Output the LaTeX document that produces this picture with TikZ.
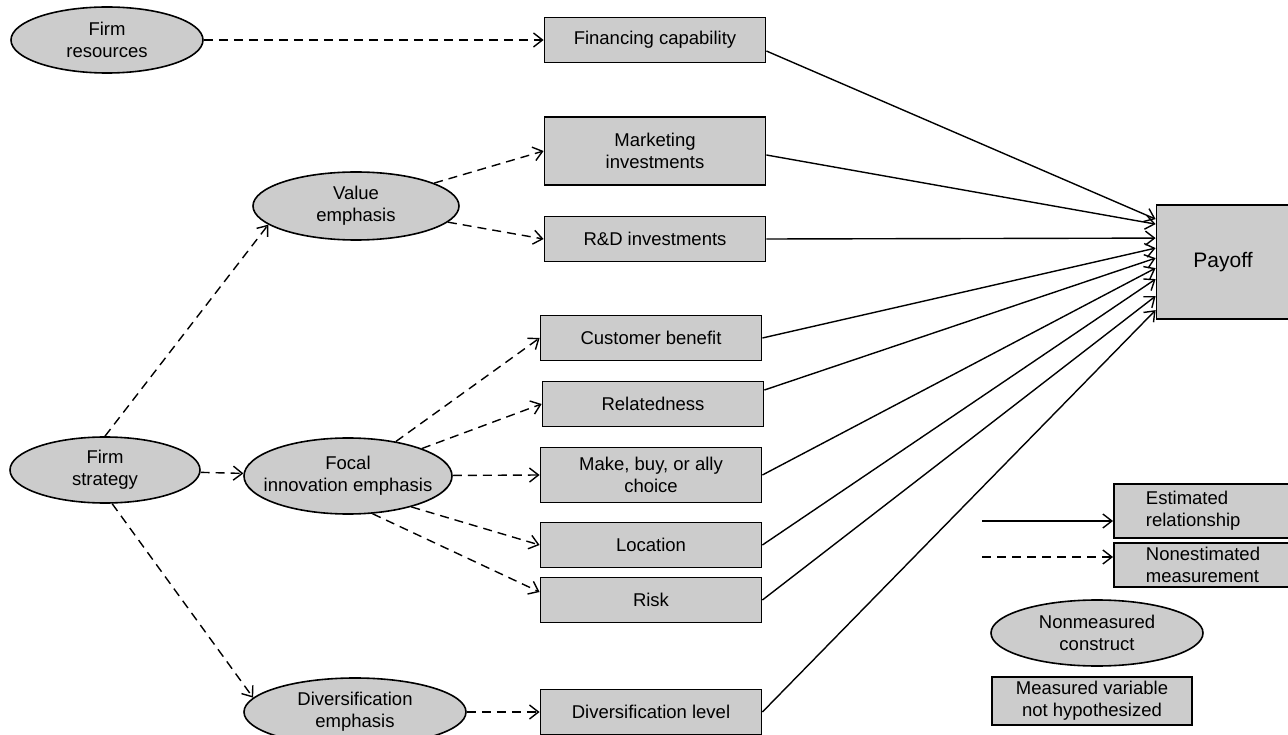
\documentclass[tikz,border=0pt]{standalone}
\usepackage{fontspec}
\setmainfont{Liberation Sans}
\usepackage{tikz}
\usetikzlibrary{shapes.geometric,arrows.meta,calc}
\definecolor{boxgray}{RGB}{204,204,204}
\def\ovalnode{\node[ellipse,draw,line width=1.6pt,fill=boxgray,inner sep=0pt,inner xsep=-60pt,inner ysep=-30pt,align=center,font=\fontsize{18.5}{21.7}\selectfont]}
\def\varnode{\node[rectangle,draw,line width=1.8pt,fill=boxgray,inner sep=0pt,minimum width=221pt,minimum height=45pt,align=center,font=\fontsize{18.5}{21.7}\selectfont]}
\def\drawest{\draw[line width=1.4pt,-{Straight Barb[length=9pt,width=14pt]}]}
\def\drawnonest{\draw[line width=1.4pt,dash pattern=on 9pt off 6pt,-{Straight Barb[length=9pt,width=14pt]}]}

\begin{document}
\begin{tikzpicture}[x=1pt,y=-1pt]
\useasboundingbox (0,0) rectangle (1288,735);
% constructs
\ovalnode[minimum width=192pt,minimum height=66pt] (fres) at (107,40) {Firm\\resources};
\ovalnode[minimum width=190pt,minimum height=66pt] (fstrat) at (105,470) {Firm\\strategy};
\ovalnode[minimum width=206pt,minimum height=68pt] (value) at (356,206) {Value\\emphasis};
\ovalnode[minimum width=208pt,minimum height=76pt] (focal) at (348,476) {Focal\\innovation emphasis};
\ovalnode[minimum width=222pt,minimum height=68pt] (divemph) at (355,712) {Diversification\\emphasis};
% measured variables
\varnode (fin) at (655,40) {Financing capability};
\varnode[minimum height=68pt] (mkt) at (655,151) {Marketing\\investments};
\varnode (rd) at (655,239) {R\&D investments};
\varnode (cust) at (651,338) {Customer benefit};
\varnode (rel) at (653,404) {Relatedness};
\varnode[minimum height=55pt] (make) at (651,475) {Make, buy, or ally\\choice};
\varnode (loc) at (651,545) {Location};
\varnode (risk) at (651,600) {Risk};
\varnode (divl) at (651,712) {Diversification level};
\varnode[minimum width=133pt,minimum height=114pt,font=\fontsize{21}{25}\selectfont] (payoff) at (1223,262) {Payoff};
% legend
\varnode[anchor=north west,minimum width=180pt,minimum height=54pt,text width=116pt,inner xsep=32pt,align=left] (lest) at (1113,483) {Estimated\\relationship};
\varnode[anchor=north west,minimum width=180pt,minimum height=44pt,text width=116pt,inner xsep=32pt,align=left] (lnon) at (1113,542) {Nonestimated\\measurement};
\ovalnode[minimum width=212pt,minimum height=66pt] (lcon) at (1097,633) {Nonmeasured\\construct};
\varnode[minimum width=200pt,minimum height=48pt] (lmeas) at (1092,701) {Measured variable\\not hypothesized};
\coordinate (le) at (982,521);
\coordinate (ln) at (982,557);
\drawest (le) -- (lest.west |- le);
\drawnonest (ln) -- (lnon.west |- ln);
% nonestimated measurement
\drawnonest (fres) -- (fin);
\drawnonest (value) -- (mkt.west);
\drawnonest (value) -- (rd.west);
\drawnonest (fstrat.north) -- (value.192);
\drawnonest (fstrat) -- (focal);
\drawnonest (fstrat.-78) -- (divemph.172);
\drawnonest (focal) -- (cust.west);
\drawnonest (focal) -- (rel.west);
\drawnonest (focal) -- (make.west);
\drawnonest (focal.-26) -- (loc.west);
\drawnonest (focal.-57) -- ($(risk.west)+(0,-8)$);
\drawnonest (divemph) -- (divl);
% estimated relationships
\drawest ($(fin.east)+(0,11)$) -- ($(payoff.north west)+(0,15)$);
\drawest ($(mkt.east)+(0,4)$) -- ($(payoff.north west)+(0,20)$);
\drawest (rd.east) -- ($(payoff.north west)+(0,34)$);
\drawest (cust.east) -- ($(payoff.north west)+(0,44)$);
\drawest ($(rel.east)+(0,-14)$) -- ($(payoff.north west)+(0,54)$);
\drawest (make.east) -- ($(payoff.north west)+(0,64)$);
\drawest (loc.east) -- ($(payoff.north west)+(0,75)$);
\drawest (risk.east) -- ($(payoff.north west)+(0,92)$);
\drawest (divl.east) -- ($(payoff.north west)+(0,106)$);
\end{tikzpicture}
\end{document}
